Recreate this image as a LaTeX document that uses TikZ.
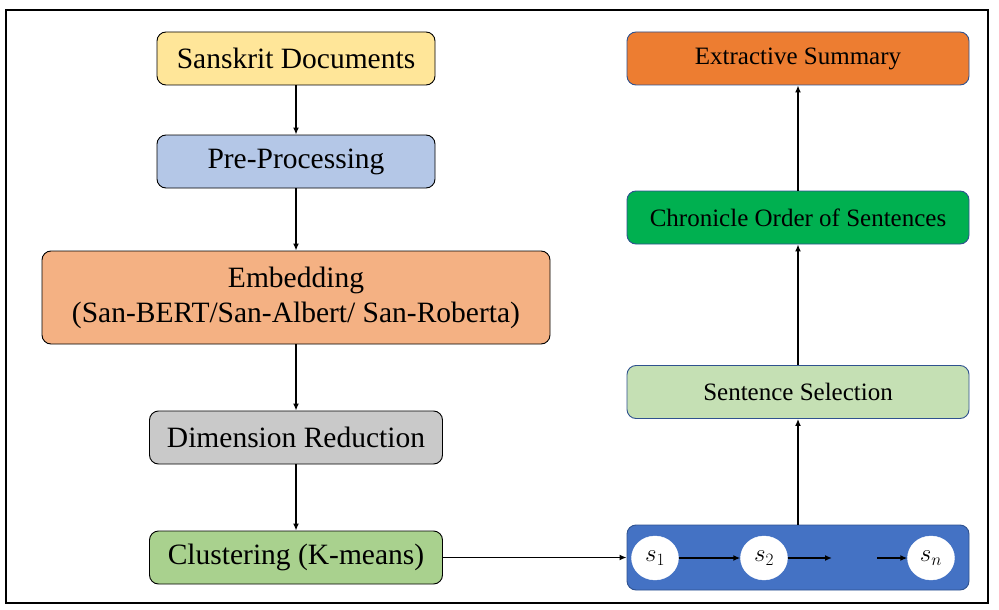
\documentclass[tikz,border=0pt]{standalone}
\usepackage{fontspec}
\setmainfont{Liberation Serif}
\newfontfamily\tnr{Liberation Serif}
\usetikzlibrary{arrows.meta,shapes.geometric}
\definecolor{cyel}{HTML}{FFE699}
\definecolor{cpre}{HTML}{B4C7E7}
\definecolor{cemb}{HTML}{F4B183}
\definecolor{cdim}{HTML}{C9C9C9}
\definecolor{cclu}{HTML}{A9D18E}
\definecolor{cext}{HTML}{ED7D31}
\definecolor{cchr}{HTML}{00B050}
\definecolor{csel}{HTML}{C5E0B4}
\definecolor{cblu}{HTML}{4472C4}
\definecolor{cbrd}{HTML}{2F528F}
\tikzset{
  lbox/.style={draw=black, line width=0.9pt, rounded corners=9pt, inner sep=0pt, align=center,
    font=\tnr\fontsize{29.5}{35}\selectfont},
  rbox/.style={draw=cbrd, line width=0.9pt, rounded corners=9pt, inner sep=0pt, align=center,
    minimum width=342pt, minimum height=53pt, font=\tnr\fontsize{25}{30}\selectfont},
  snode/.style={ellipse, fill=white, draw=white, minimum width=47pt, minimum height=44pt, inner sep=0pt,
    font=\fontsize{27}{30}\selectfont},
  arr/.style={line width=1.5pt, -{Latex[length=7pt,width=6pt]}},
}
\begin{document}
\begin{tikzpicture}[x=1pt,y=-1pt]
\useasboundingbox (0,0) rectangle (999,610);
\fill[white] (0,0) rectangle (999,610);
\draw[line width=2pt] (6,10) rectangle (988,603);
% left column
\node[lbox, fill=cyel, minimum width=278pt, minimum height=53pt] (san) at (296,58.5) {Sanskrit Documents};
\node[lbox, fill=cpre, minimum width=278pt, minimum height=53pt] (pre) at (296,161.5) {Pre-Processing};
\node[lbox, fill=cemb, minimum width=508pt, minimum height=93pt] (emb) at (296,297.5) {Embedding\\(San-BERT/San-Albert/ San-Roberta)};
\node[lbox, fill=cdim, minimum width=293pt, minimum height=53pt] (dim) at (296,437.5) {Dimension Reduction};
\node[lbox, fill=cclu, minimum width=293pt, minimum height=53pt] (clu) at (296,557.5) {Clustering (K-means)};
% right column
\node[rbox, fill=cext] (ext) at (798,58.5) {Extractive Summary};
\node[rbox, fill=cchr] (chr) at (798,217.5) {Chronicle Order of Sentences};
\node[rbox, fill=csel] (sel) at (798,392) {Sentence Selection};
\node[rbox, fill=cblu, minimum height=65pt] (blu) at (798,557.5) {};
\node[snode] (s1) at (655,558) {$s_1$};
\node[snode] (s2) at (764,558) {$s_2$};
\node[snode] (sn) at (931,558) {$s_n$};
\coordinate (m1) at (832,558);
\coordinate (m2) at (877,558);
% connectors
\draw[arr] (san) -- (pre);
\draw[arr] (pre) -- (emb);
\draw[arr] (emb) -- (dim);
\draw[arr] (dim) -- (clu);
\draw[arr] (clu.east) -- (clu.east -| blu.west);
\draw[arr] (s1) -- (s2);
\draw[arr] (s2) -- (m1);
\draw[arr] (m2) -- (sn);
\draw[arr] (blu) -- (sel);
\draw[arr] (sel) -- (chr);
\draw[arr] (chr) -- (ext);
\end{tikzpicture}
\end{document}
